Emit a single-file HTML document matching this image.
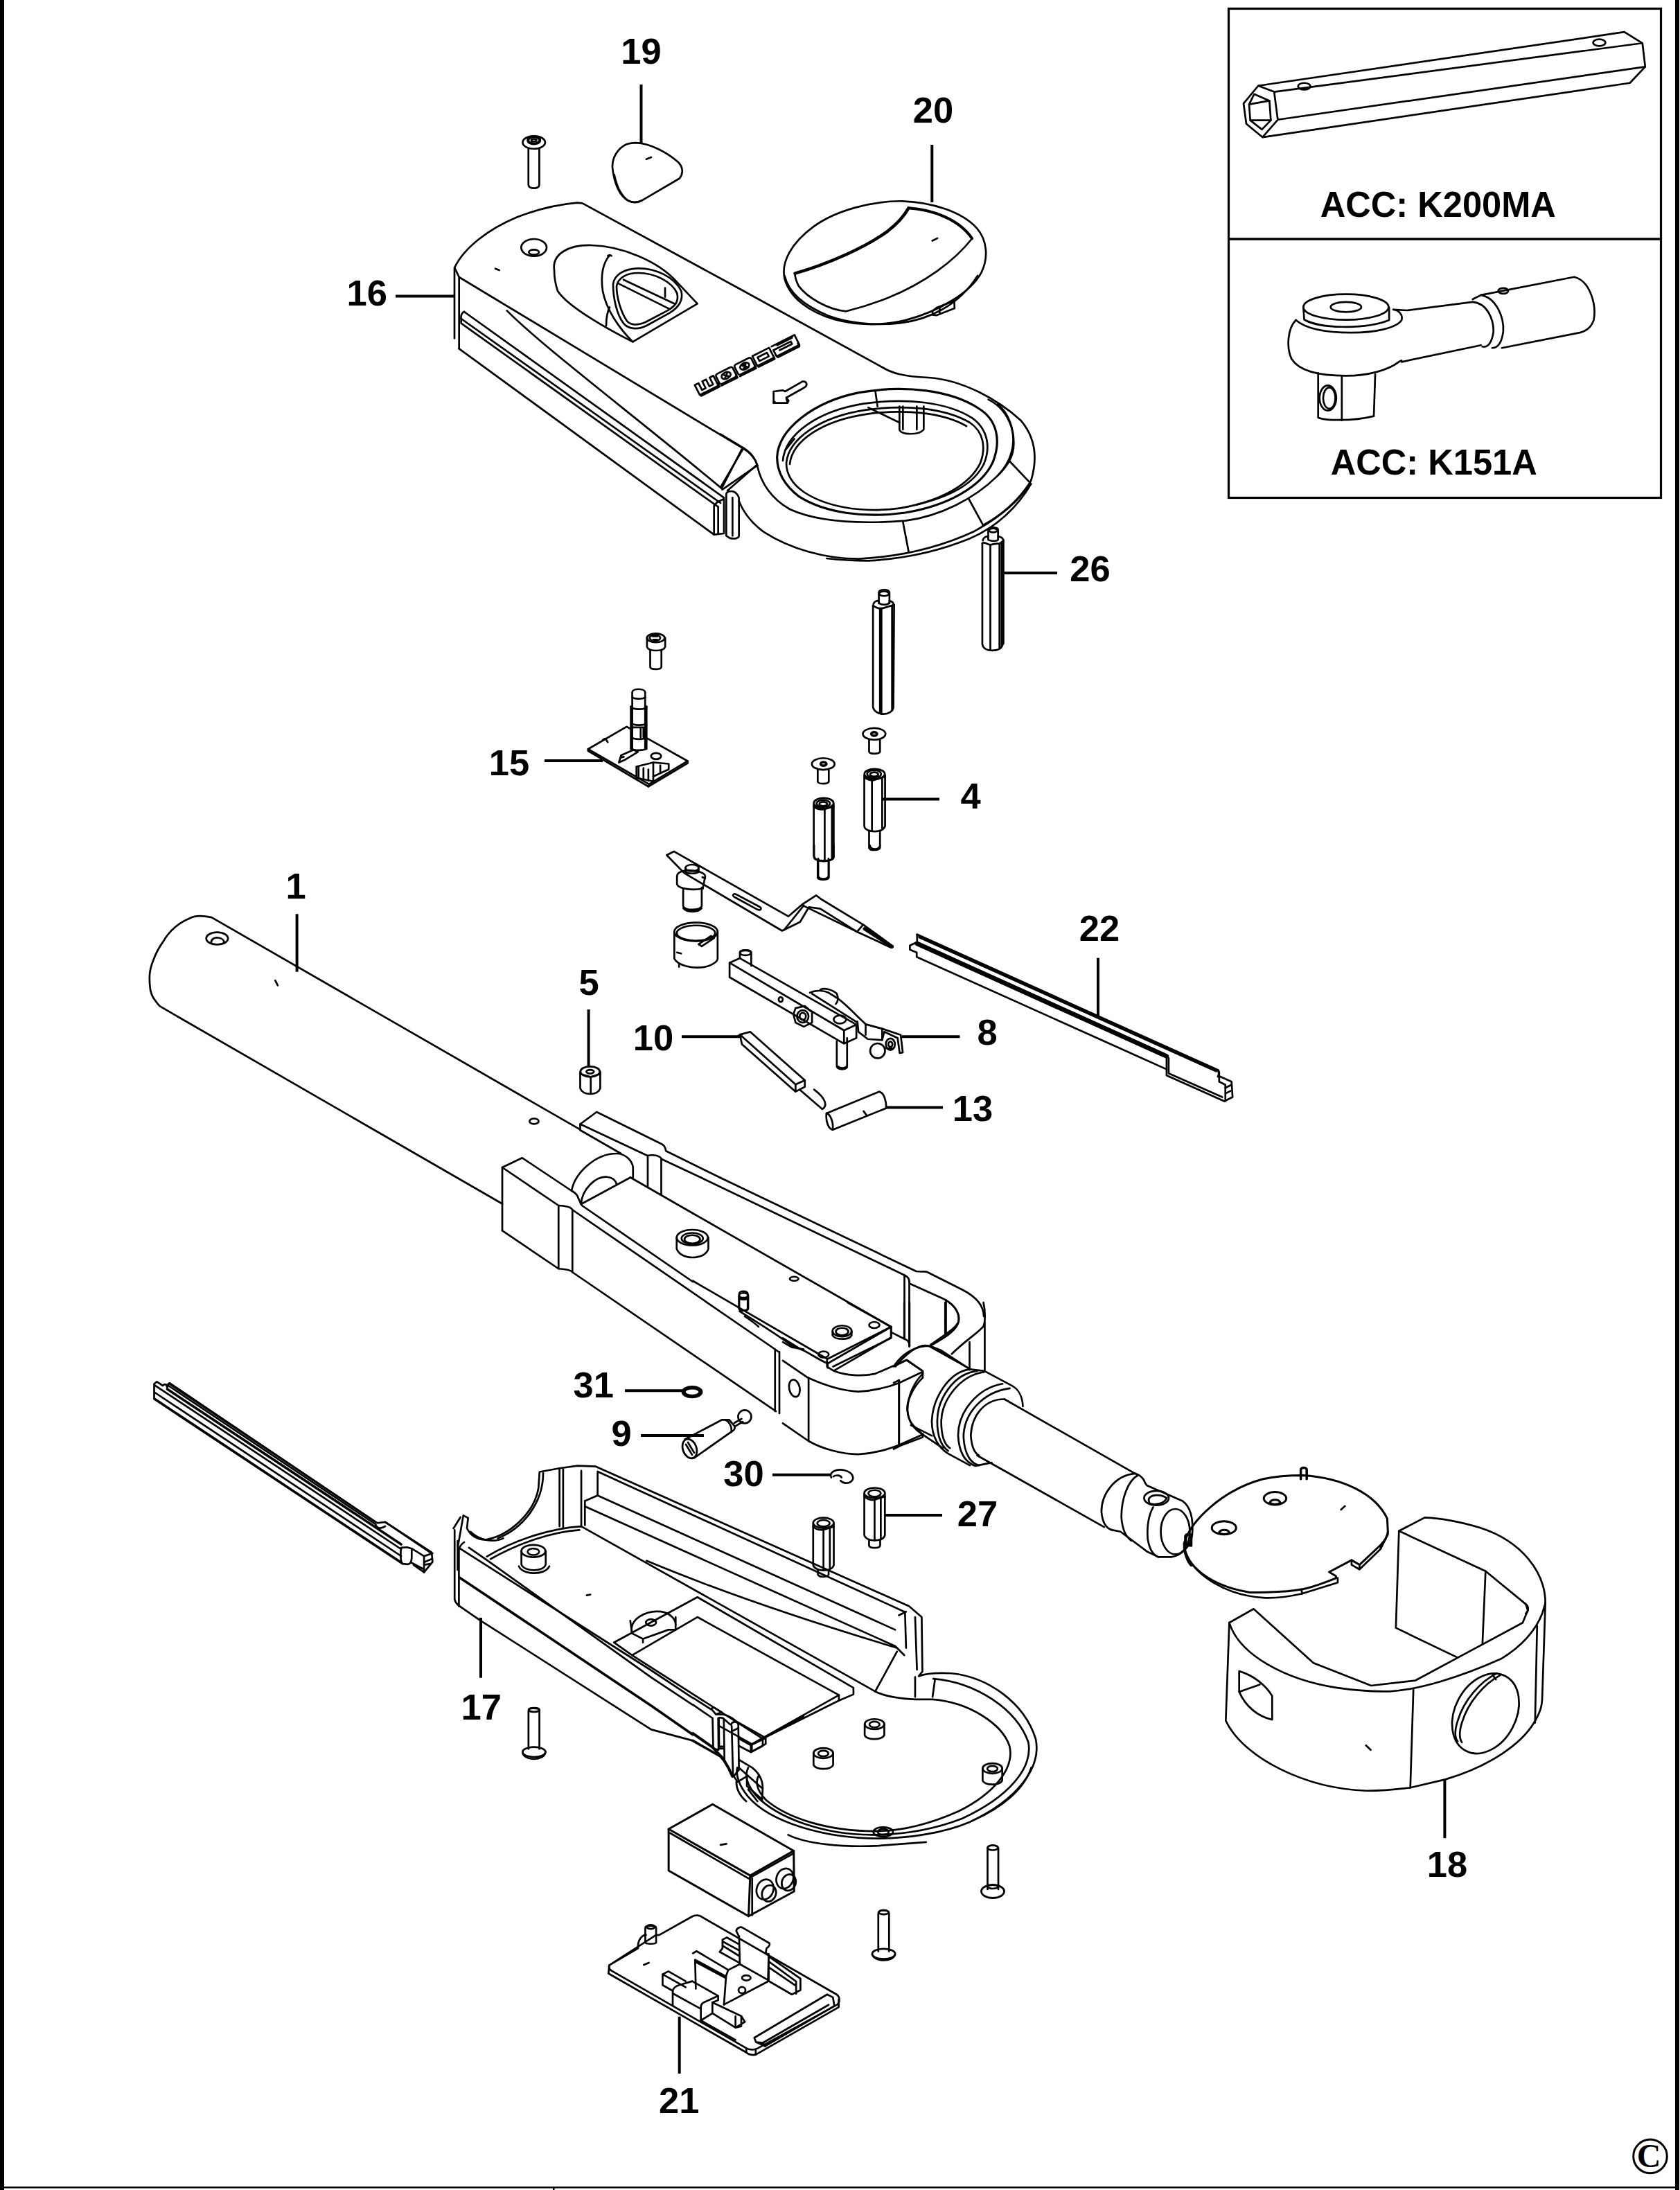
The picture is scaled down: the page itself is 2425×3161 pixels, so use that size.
<!DOCTYPE html>
<html><head><meta charset="utf-8">
<style>
html,body{margin:0;padding:0;background:#fff;}
body{width:2425px;height:3161px;overflow:hidden;position:relative;}
svg{position:absolute;left:0;top:0;}
.l path,.l ellipse,.l circle,.l polyline,.l line,.l polygon,.l rect{fill:none;stroke:#000;stroke-width:2.7;vector-effect:non-scaling-stroke;stroke-linejoin:round;stroke-linecap:round;}
.t{font-family:"Liberation Sans",sans-serif;font-weight:bold;font-size:52.5px;fill:#000;}
.ld{stroke:#000;stroke-width:4;fill:none;}
</style></head><body>
<svg width="2425" height="3161" viewBox="0 0 2425 3161">
<rect x="0" y="0" width="6" height="3161" fill="#000"/>
<rect x="2418" y="0" width="6" height="3161" fill="#000"/>
<rect x="0" y="3156" width="2418" height="2.5" fill="#000"/>
<rect x="798" y="3157" width="2.5" height="4" fill="#000"/>
<rect x="1773.5" y="12.5" width="624" height="706" fill="none" stroke="#000" stroke-width="3.2"/>
<line x1="1772" y1="345" x2="2398" y2="345" stroke="#000" stroke-width="3.5"/>
<!-- part 19 + screw  zoom 5.419 -->
<g class="l" transform="translate(700,40) scale(0.184536)">
<ellipse cx="383" cy="897" rx="88" ry="50"/>
<ellipse cx="383" cy="880" rx="46" ry="28" style="stroke-width:4"/>
<ellipse cx="383" cy="880" rx="20" ry="10"/>
<path d="M340,945 L340,1230 Q345,1255 383,1255 Q422,1255 425,1230 L425,945"/>
<path d="M1180,900 C1300,905 1430,980 1510,1050 C1550,1090 1555,1140 1520,1180 L1230,1350 C1190,1375 1140,1370 1100,1340 C1040,1290 1010,1200 998,1100 C990,1020 1040,940 1110,910 C1135,902 1160,900 1180,900 Z"/>
<path d="M1012,1150 C1030,1240 1060,1310 1120,1352 C1150,1368 1190,1368 1225,1352"/>
<path d="M1262,1028 L1300,1013"/>
</g>
<!-- part 20 zoom 4.6667 -->
<g class="l" transform="translate(1110,130) scale(0.2142857)">
<path d="M900,748 C1100,755 1300,820 1400,930 C1470,1010 1480,1130 1430,1230 C1360,1360 1150,1490 920,1550 C780,1585 600,1590 440,1545 C270,1495 140,1400 105,1270 C80,1160 150,1030 300,920 C450,810 700,745 900,748 Z"/>
<path d="M105,1250 C130,1360 230,1450 400,1520 C520,1565 700,1590 880,1570 C1080,1545 1280,1450 1405,1250"/>
<path d="M175,1235 C400,1170 650,1060 800,950 C870,895 910,850 940,795 C1100,805 1280,870 1368,1000 C1250,1150 1050,1300 800,1400 C700,1440 600,1470 520,1490 C400,1480 260,1400 200,1320 C185,1290 175,1260 175,1235 Z"/>
<path d="M175,1235 C400,1170 650,1060 800,950 C870,895 910,850 940,795" style="stroke-width:4.5"/>
<path d="M940,795 C1100,805 1280,870 1368,1000" style="stroke-width:4"/>
<path d="M1100,1490 L1105,1515 L1130,1517 L1250,1470 L1248,1420 L1130,1465 Z"/>
<path d="M1150,1460 L1150,1500"/>
<path d="M1100,1015 L1135,998"/>
</g>
<!-- cover 16 left zoom 3 at 620,270 -->
<g class="l" transform="translate(620,270) scale(0.333333)">
<path d="M108,655 L108,350 C150,260 260,180 380,130 C470,95 560,75 640,68 L662,70 L1360,450"/>
<path d="M128,700 L128,390"/>
<path d="M110,352 L128,390 L1355,1130"/>
<path d="M128,700 L1232,1505"/>
<path d="M150,540 C140,545 135,555 137,570 L137,590 L1250,1385"/>
<path d="M150,540 L1275,1345"/>
<path d="M137,570 L1260,1368"/>
<path d="M335,535 C500,700 900,1000 1265,1305"/>
<path d="M1355,1130 L1265,1305"/>
<path d="M1420,1205 L1268,1310"/>
<path d="M1355,1130 C1390,1150 1410,1175 1420,1205"/>
<path d="M1232,1505 L1232,1380 L1245,1365 L1275,1350 L1275,1500 Z"/>
<path d="M1250,1385 L1250,1500"/>
<path d="M1285,1330 C1285,1320 1300,1315 1315,1318 C1330,1322 1340,1340 1340,1350 L1340,1510 C1340,1522 1320,1525 1300,1520 L1285,1510 Z"/>
<path d="M1312,1345 L1312,1510"/>
<ellipse cx="452" cy="262" rx="55" ry="37"/>
<ellipse cx="452" cy="282" rx="22" ry="11"/>
<path d="M285,353 L302,360"/>
<path d="M540,360 C530,290 600,250 700,252 C830,255 990,320 1070,410 L1160,505 L880,670 C780,620 600,520 555,450 C545,420 540,390 540,360 Z"/>
<path d="M780,295 C750,330 740,380 750,450 C765,530 820,610 880,670"/>
<path d="M765,600 C765,560 770,540 780,520"/>
<path d="M795,420 C800,380 840,355 900,352 C980,350 1060,390 1090,450 C1100,490 1080,520 1040,545 L940,600 C900,620 860,615 840,590 C810,550 795,480 795,420 Z"/>
<path d="M810,430 C815,395 850,372 905,372 C975,372 1050,410 1072,460 C1080,495 1065,515 1030,535 L935,585 C900,600 870,598 855,580 C830,545 810,480 810,430 Z"/>
<path d="M840,401 L1063,506 M1020,437 L1020,476"/>
<path d="M819,418 L1037,527"/>
<path d="M772,298 C776,294 784,294 788,298"/>
</g>
<!-- FACOM lettering + arrow (zoom 3 at 620,270) -->
<g class="l" transform="translate(620,270) scale(0.333333)">
<g></g>
<path d="M1490,885 L1490,935 L1550,935 L1555,925 L1545,912 L1620,870 C1640,860 1635,840 1615,842 L1540,885 L1530,880 Z"/>
<path d="M1545,912 L1550,935 M1490,935 L1495,930"/>
</g>
<!-- FACOM lettering (source coords, local frame) -->
<g class="l" transform="translate(1078,527) rotate(-26.7)">
<path d="M-79,10 L-49,10 M-46,10 L-20,10 M-16,10 L10,10 M14,10 L40,10 M45,10 L80,10 M-49,10 L-49,4 M-20,10 L-20,5 M10,10 L10,5 M40,10 L40,5 M80,10 L80,5"/>
<path d="M-80,-8 L-80,8 L-50,8 L-50,-8 L-56,-8 L-56,3 L-62,3 L-62,-8 L-68,-8 L-68,3 L-74,3 L-74,-8 Z"/>
<rect x="-47" y="-8" width="27" height="16" rx="3"/>
<ellipse cx="-33.5" cy="0" rx="7" ry="4.5"/>
<path d="M-36,-2 L-31,2 M-36,2 L-31,-2"/>
<rect x="-17" y="-8" width="27" height="16" rx="3"/>
<ellipse cx="-3.5" cy="0" rx="7" ry="4.5"/>
<path d="M-6,-2 L-1,2 M-6,2 L-1,-2 M-3.5,-4 L-3.5,4"/>
<path d="M13,-8 L40,-8 L40,8 L13,8 Z M19,-3 L34,-3 L34,3 L19,3 Z"/>
<path d="M44,-8 L81,-8 L81,8 L44,8 L44,-2 L72,-2 L72,2 L52,2 M52,-6 L76,-6"/>
</g>
<!-- cover head zoom 3 at 1040,420 -->
<g class="l" transform="translate(1040,420) scale(0.333333)">
<path d="M100,0 L700,330 C740,355 790,370 900,375 C1050,385 1200,470 1300,560 C1360,630 1375,720 1345,820 C1310,900 1200,985 1100,1040 C950,1110 780,1150 600,1160 C450,1160 300,1115 190,1045 C140,1010 100,960 80,910"/>
<path d="M0,620 L100,680 C130,700 150,720 160,760 C175,830 220,900 300,945 C420,1000 600,1010 800,995 C950,975 1100,900 1200,800 C1260,740 1280,660 1260,590 C1240,530 1200,490 1160,470"/>
<path d="M1200,490 C1250,530 1270,600 1270,660 C1270,720 1240,760 1200,800"/>
<path d="M1250,735 L1340,830"/>
<path d="M1075,900 L1135,1010"/>
<path d="M790,1000 L815,1130"/>
<path d="M460,1158 C520,1165 580,1168 640,1168 C800,1160 950,1125 1080,1072 C1200,1020 1290,930 1345,835"/>
<path d="M1135,1015 C1200,980 1280,920 1340,830"/>
<path d="M100,680 L0,850"/>
<path d="M155,755 L30,865"/>
<path d="M245,720 C250,600 400,480 600,440 C800,405 1000,430 1120,510 C1200,560 1215,650 1180,740 C1130,850 980,930 800,960 C620,985 450,960 340,890 C275,840 245,780 245,720 Z" style="stroke-width:3.2"/>
<path d="M270,735 C280,620 420,520 620,488 C800,462 980,480 1090,550 C1160,600 1170,680 1140,750"/>
<path d="M285,745 C295,640 430,545 630,515 C800,492 970,505 1080,570 C1140,610 1150,680 1125,745 C1080,840 950,910 780,940 C600,965 450,930 360,870 C310,835 285,790 285,745 Z"/>
<path d="M300,750 C310,650 440,560 640,532 C800,512 960,525 1065,585"/>
<path d="M1140,750 C1100,830 1000,890 850,925"/>
<path d="M670,430 L680,500"/>
<path d="M280,690 L320,640"/>
<path d="M775,500 L775,600 C780,625 860,625 880,600 L880,500"/>
<path d="M790,500 L790,600 M850,500 L850,600"/>
<path d="M640,505 L775,570"/>
</g>
<!-- part 26 zoom 6.4615 at 1380,740 -->
<g class="l" transform="translate(1380,740) scale(0.154762)">
<path d="M300,250 L300,160 C300,130 390,130 392,160 L392,250"/>
<ellipse cx="346" cy="165" rx="38" ry="18"/>
<path d="M250,260 C255,230 280,220 300,222 M392,222 C420,225 440,240 442,262"/>
<path d="M300,250 C310,268 385,268 392,250"/>
<path d="M245,285 L245,1225 C250,1265 290,1285 340,1285 C390,1285 425,1265 432,1235 L442,1220 L442,262"/>
<path d="M245,285 C260,270 280,290 320,300 C350,292 380,285 405,290 L442,262"/>
<path d="M320,300 L320,1282 M405,290 L405,1265 M425,290 L425,1240"/>
</g>
<!-- part 15 + cap screw zoom 4.941 at 690,890 -->
<g class="l" transform="translate(690,890) scale(0.202381)">
<ellipse cx="1268" cy="152" rx="63" ry="32"/>
<ellipse cx="1262" cy="152" rx="38" ry="22"/>
<path d="M1245,140 L1280,140 M1250,165 L1278,165"/>
<path d="M1205,152 L1205,215 C1210,235 1240,242 1268,242 C1300,242 1330,235 1335,215 L1335,152"/>
<path d="M1228,238 L1228,360 C1232,378 1300,382 1308,360 L1308,238"/>
<path d="M1092,803 L1060,785 L785,945 L1220,1195 L1495,1030 L1202,865"/>
<path d="M785,945 L785,958 L1215,1212 L1495,1045 L1495,1030"/>
<path d="M1220,1195 L1215,1212"/>
<path d="M1100,945 L1100,540 C1100,510 1190,510 1192,540 L1192,945"/>
<path d="M1100,575 C1110,590 1180,590 1192,575"/>
<path d="M1090,640 L1090,945 M1202,640 L1202,945"/>
<path d="M1090,645 C1110,665 1185,665 1202,645 M1092,760 C1110,778 1185,778 1200,760"/>
<path d="M1092,860 C1110,878 1185,878 1200,860 M1092,940 C1110,958 1185,958 1200,940"/>
<path d="M1105,790 L1180,790 L1180,860 M1160,800 L1160,860"/>
<path d="M1005,1040 L1020,990 L1110,950 L1140,965 L1050,1020 Z M1020,1005 L1040,1000"/>
<path d="M1130,1070 L1250,1040 L1360,1050 L1360,1090 L1250,1140 L1250,1175 L1130,1150 Z"/>
<path d="M1145,1070 L1145,1150 M1180,1080 L1180,1160 M1215,1090 L1215,1170 M1250,1040 L1250,1140 M1300,1060 L1300,1110"/>
<ellipse cx="1270" cy="995" rx="36" ry="22"/>
<path d="M890,880 L905,870 M915,880 L925,895"/>
</g>
<!-- part 4 standoffs & screws zoom 4.761 at 1140,830 -->
<g class="l" transform="translate(1140,830) scale(0.210040)">
<path d="M612,195 L612,120 C612,95 683,95 685,120 L685,195"/>
<ellipse cx="648" cy="128" rx="33" ry="16"/>
<path d="M612,190 C625,208 672,208 685,190"/>
<path d="M575,200 C580,180 600,175 612,178 M685,178 C700,180 712,190 715,205"/>
<path d="M572,210 L572,905 C575,935 610,955 640,955 C680,955 710,935 712,910 L717,205"/>
<path d="M572,210 C600,230 625,232 640,228 L717,205"/>
<path d="M620,228 L620,945 M630,228 L630,948 M703,215 L703,930"/>
<ellipse cx="580" cy="1092" rx="78" ry="40"/>
<ellipse cx="580" cy="1092" rx="20" ry="12" style="stroke-width:3.5"/>
<path d="M545,1130 L545,1215 C550,1232 612,1232 620,1215 L620,1130"/>
<ellipse cx="230" cy="1298" rx="78" ry="40"/>
<ellipse cx="232" cy="1298" rx="20" ry="12" style="stroke-width:3.5"/>
<path d="M192,1337 L192,1420 C197,1438 262,1438 268,1420 L268,1337"/>
<ellipse cx="583" cy="1367" rx="70" ry="35"/>
<ellipse cx="580" cy="1367" rx="48" ry="26"/>
<ellipse cx="580" cy="1370" rx="28" ry="15"/>
<path d="M512,1375 L512,1725 C515,1750 550,1762 583,1762 C620,1762 650,1748 655,1725 L655,1375"/>
<path d="M512,1390 C540,1410 565,1412 575,1410 L655,1385"/>
<path d="M565,1410 L565,1755 M635,1395 L635,1740"/>
<path d="M545,1762 L545,1875 C550,1895 612,1895 620,1875 L620,1762"/>
<ellipse cx="233" cy="1567" rx="68" ry="35"/>
<ellipse cx="230" cy="1570" rx="46" ry="24"/>
<ellipse cx="230" cy="1573" rx="27" ry="14"/>
<path d="M165,1575 L165,1930 C170,1955 200,1967 233,1967 C270,1967 298,1955 302,1930 L302,1575"/>
<path d="M165,1592 C190,1610 220,1613 235,1610 L302,1590"/>
<path d="M240,1610 L240,1962 M290,1600 L290,1945"/>
<path d="M192,1967 L192,2080 C197,2098 262,2098 268,2080 L268,1967"/>
</g>
<!-- levers zoom 3.36 at 940,1220 -->
<g class="l" transform="translate(940,1220) scale(0.297619)">
<path d="M75,48 L110,30 L665,345 L735,285 L800,243 L825,262 L1028,385 L1170,488 L1165,497 L995,418 L820,308 L765,300 L722,372 L635,415 L160,135 Z"/>
<path d="M645,410 L740,292 M735,292 L1000,420"/>
<path d="M1028,385 L1000,418"/>
<path d="M1035,405 L1168,492" style="stroke-width:5"/>
<path d="M412,238 L525,298 C540,306 530,318 515,312 L405,252 C390,244 398,232 412,238 Z"/>
<path d="M248,155 L262,160"/>
<ellipse cx="198" cy="110" rx="32" ry="16"/>
<path d="M166,110 L166,128 C175,140 220,140 230,128 L230,110"/>
<path d="M125,150 C125,130 160,120 190,122 C230,124 260,135 262,150 L250,210"/>
<path d="M125,150 L125,190 C135,212 200,220 250,210"/>
<path d="M155,212 L155,295 C160,318 235,318 245,295 L245,205"/>
<path d="M158,305 C175,325 225,325 242,305" style="stroke-width:4"/>
<ellipse cx="217" cy="420" rx="105" ry="45"/>
<ellipse cx="217" cy="426" rx="93" ry="37"/>
<path d="M112,420 L112,550 C130,585 200,598 250,592 C300,585 322,560 322,550 L322,420"/>
<path d="M230,480 L290,440 L305,450 L245,490 Z"/>
<path d="M125,520 L145,525 M135,580 L135,590"/>
<path d="M380,570 L430,548 L995,870 L935,898 Z"/>
<path d="M380,570 L380,640 L935,962 L935,898 M935,962 L995,935 L995,870"/>
<path d="M430,548 L430,520 C430,505 485,505 485,520 L485,585"/>
<ellipse cx="457" cy="522" rx="27" ry="12"/>
<ellipse cx="628" cy="748" rx="10" ry="12"/>
<path d="M700,790 L745,780 L780,810 L780,860 L740,880 L700,860 L690,820 Z"/>
<ellipse cx="735" cy="830" rx="28" ry="30"/>
<ellipse cx="735" cy="830" rx="15" ry="17"/>
<path d="M770,715 C800,700 840,705 860,715 L900,740 C930,760 960,790 1000,830 L1040,868 L1120,890 L1210,920 L1220,1005 L1205,1008 L1195,935 L1130,905 L1120,945 L1050,940 L1005,905 L1000,855"/>
<path d="M780,720 L1000,860 M1040,868 L1040,920 M1120,890 L1120,945"/>
<path d="M820,700 C840,690 880,700 900,720 C910,740 905,760 895,770"/>
<ellipse cx="915" cy="845" rx="30" ry="20"/>
<ellipse cx="1160" cy="965" rx="22" ry="28"/>
<ellipse cx="1160" cy="965" rx="10" ry="13"/>
<path d="M1140,985 L1170,985"/>
<circle cx="1098" cy="997" r="36"/>
<path d="M900,950 L900,1072 C905,1090 945,1090 950,1072 L950,935"/>
<path d="M905,1075 C915,1085 940,1085 948,1075" style="stroke-width:4"/>
<path d="M430,918 L480,905 L745,1140 L700,1160 Z"/>
<path d="M430,918 L440,965 L700,1195 L745,1172 L745,1140 M700,1160 L700,1195"/>
<path d="M420,925 L440,918"/>
<path d="M720,1185 L830,1280 C855,1265 850,1230 790,1185"/>
<path d="M850,1300 L1105,1195 C1130,1200 1140,1240 1140,1275 L880,1380 C860,1375 845,1340 850,1300 Z"/>
<path d="M850,1300 C870,1305 885,1345 880,1380"/>
<path d="M1030,1290 L1045,1310"/>
<path d="M790,0 L790,60 C795,80 880,80 885,60 L885,0"/>
<path d="M810,65 L810,150 C815,168 855,168 860,150 L860,65"/>
<path d="M1060,0 C1065,25 1105,25 1110,0"/>
</g>
<!-- rail 22 zoom 3.36 at 1300,1280 -->
<g class="l" transform="translate(1300,1280) scale(0.297619)">
<path d="M80,232 L1540,890 C1545,900 1545,912 1540,920" style="stroke-width:3.4"/>
<path d="M80,232 L80,268 L45,285 L45,305 L78,318 L78,340 L1290,885"/>
<path d="M80,268 L1290,815"/>
<path d="M80,276 L1290,822" style="stroke-width:6.5"/>
<path d="M90,245 L1530,895"/>
<path d="M1290,825 L1290,915 L1570,1040 L1610,1020 L1605,945 L1545,918 L1545,945 L1575,960 L1575,1040"/>
<path d="M1300,830 L1300,905 L1560,1020"/>
<path d="M1575,975 L1605,960 M1580,1000 L1600,990"/>
</g>
<!-- handle 1 (source coords) -->
<g class="l">
<path d="M837.5,1630.4 L305.4,1324.1 C295,1322 282,1321 275,1325 C265,1329 259,1333 253.6,1337.5 C246,1344 240,1351 235.7,1358.9 C229,1368 225,1376 221.4,1385.7 C218,1394 216.5,1400 216,1407 C215.5,1414 216,1421 217,1428.6 C218.5,1435 220,1439 223.2,1442.9 C226,1447 228,1450 231.25,1452.7 L725,1737.5"/>
<ellipse cx="313.4" cy="1354.5" rx="15.7" ry="8.9"/>
<path d="M304.8,1360.5 C305,1355 310,1353 314.5,1353.5 C320,1354 323,1357 323.5,1359.5"/>
<path d="M397.3,1415.2 L400.9,1422.3"/>
<ellipse cx="770.9" cy="1618.4" rx="6.6" ry="3.9"/>
<ellipse cx="851.8" cy="1546.8" rx="14" ry="7.5"/>
<ellipse cx="851.8" cy="1546.8" rx="5.4" ry="2.7"/>
<path d="M837.5,1547 L837.5,1571 C840,1577 846,1579 852,1579 C858,1579 864,1577 866.4,1571 L866.4,1547"/>
<path d="M837.5,1550 L852.7,1554.5 L866.4,1550 M852.7,1554.5 L852.7,1578.6"/>
</g>
<!-- body J-view zoom 4 at 690,1580 -->
<g class="l" transform="translate(690,1580) scale(0.25)">
<path d="M590,205 L590,170 L685,100 L1050,280 C1075,290 1080,300 1085,325 L1400,480"/>
<path d="M590,170 L978,352 C1010,345 1050,350 1060,372 L1290,480"/>
<path d="M590,205 L825,340"/>
<path d="M980,355 L980,530 M1058,372 L1058,578"/>
<path d="M880,478 L1240,685"/>
<path d="M140,785 L140,420 L255,365 L540,555 C560,565 575,580 580,600 L595,632"/>
<path d="M140,420 L465,640 C500,640 540,650 545,665 L1712,1468 L1737,1486"/>
<path d="M465,640 L465,1005 M545,665 L545,1025"/>
<path d="M140,785 L465,1005 C500,1005 540,1015 545,1025 L1720,1828"/>
<path d="M540,555 C560,450 680,340 800,340 C850,340 890,380 895,420 L895,478"/>
<path d="M595,632 C600,545 680,470 745,475 C775,478 795,495 800,518"/>
<path d="M595,632 L880,478"/>
<path d="M600,640 L1240,1080"/>
<ellipse cx="1237" cy="825" rx="90" ry="45"/>
<ellipse cx="1237" cy="830" rx="62" ry="32"/>
<ellipse cx="1237" cy="835" rx="45" ry="24"/>
<path d="M1147,825 L1147,890 C1160,925 1200,940 1237,940 C1280,940 1320,925 1330,890 L1330,825"/>
<path d="M1508,1150 C1508,1130 1555,1130 1557,1150 L1557,1235 C1555,1250 1510,1250 1508,1235 Z"/>
<path d="M1508,1165 C1515,1175 1550,1175 1557,1165 M1508,1180 L1557,1180"/>
</g>
<!-- body K2-view zoom 4 at 1000,1700 -->
<g class="l" transform="translate(1000,1700) scale(0.25)">
<path d="M160,0 L1290,540 C1320,545 1345,538 1355,545 L1560,648 C1640,690 1680,740 1680,800"/>
<path d="M50,0 L1222,562 C1240,570 1250,585 1250,600"/>
<path d="M1222,562 L1222,925 M1250,600 L1250,975"/>
<path d="M1255,612 L1450,700 C1525,740 1550,800 1530,845 C1510,890 1450,925 1375,968"/>
<path d="M1462,705 L1462,895"/>
<path d="M0,205 L1145,860 L1145,925 L810,1090"/>
<path d="M780,1045 L1145,860"/>
<path d="M0,595 L775,1045 L775,1090"/>
<path d="M270,770 C350,820 480,900 560,960 C580,975 600,985 640,990"/>
<path d="M300,800 C330,820 360,840 380,860"/>
<ellipse cx="585" cy="583" rx="25" ry="12"/>
<ellipse cx="1048" cy="850" rx="30" ry="18"/>
<ellipse cx="755" cy="1020" rx="30" ry="18"/>
<ellipse cx="862" cy="885" rx="55" ry="32"/>
<ellipse cx="862" cy="888" rx="36" ry="21"/>
<path d="M807,885 L807,910 C820,935 900,940 917,910 L917,885"/>
<path d="M267,680 C267,660 318,660 320,680 L320,755 C318,770 270,770 267,755 Z"/>
<path d="M267,695 C275,705 312,705 320,695"/>
<path d="M475,990 L475,1348 M500,1005 L500,1360"/>
</g>
<!-- U front zoom 5.25 at 1130,1880 -->
<g class="l" transform="translate(1130,1880) scale(0.190476)">
<path d="M0,440 L190,570 C300,620 450,670 570,675 C700,670 800,640 880,610 L1060,525"/>
<path d="M0,915 L195,1050 C300,1110 450,1150 570,1150 C700,1145 800,1110 880,1080 L1060,1000"/>
<path d="M195,570 L195,1050 M880,610 L880,1080"/>
<ellipse cx="88" cy="650" rx="40" ry="66" transform="rotate(-12 88 650)"/>
<path d="M340,490 L390,520 C480,555 600,560 700,540 L850,475 L940,435 L1060,520 L1060,540"/>
<path d="M340,462 L820,185 L820,265 L390,515 M340,462 L340,495"/>
<path d="M0,270 L120,345 C200,380 280,440 340,462"/>
<path d="M0,300 L70,340 C100,345 120,345 150,360"/>
<path d="M490,0 L820,185"/>
<path d="M820,225 L940,285 C955,295 960,310 960,330"/>
<path d="M920,0 L920,275 M960,0 L960,330"/>
<path d="M850,470 C900,400 980,340 1080,330 L1110,330 L1420,505"/>
<path d="M1120,335 L1280,425 L1330,450"/>
<path d="M1060,540 C1000,600 945,700 945,820 C950,900 980,930 1060,1000 L1060,1010"/>
<path d="M970,930 L1130,1010"/>
<path d="M1230,0 L1230,235 M1260,0 C1320,40 1340,100 1330,150 C1300,200 1250,230 1120,320"/>
<path d="M1520,0 C1535,60 1535,150 1520,180 C1480,230 1380,290 1280,390"/>
<path d="M1415,300 L1415,510 M1530,150 L1530,515"/>
</g>
<!-- tube zoom 3.818 at 1290,1920 -->
<g class="l" transform="translate(1290,1920) scale(0.261905)">
<path d="M0,200 L70,165 L160,225 L160,262"/>
<path d="M0,290 L30,275 L30,640 L0,655"/>
<path d="M160,570 L160,590 L0,650"/>
<path d="M160,85 C100,100 40,160 10,200"/>
<path d="M160,85 C200,80 230,100 260,110 L420,215"/>
<path d="M160,262 C100,320 70,400 75,440 C80,500 110,545 160,575 L270,650"/>
<path d="M200,90 L330,160"/>
<path d="M420,215 C300,230 215,380 210,500 C210,590 250,650 300,680 L420,745"/>
<path d="M460,225 C330,240 240,380 240,500 C240,585 265,640 300,665"/>
<path d="M500,230 C360,250 265,390 262,500 C262,580 280,630 310,650"/>
<path d="M420,215 L500,225 L650,305 C690,325 710,370 712,420"/>
<path d="M600,295 C460,320 355,450 355,580 C360,680 400,730 450,748 L540,730"/>
<path d="M640,320 C490,340 385,460 385,590 C390,690 430,735 470,745"/>
<path d="M610,380 L1330,790"/>
<path d="M460,690 L1160,1085"/>
<path d="M610,380 C500,380 430,470 425,580 C430,650 450,680 470,690"/>
<path d="M1330,790 C1220,800 1145,900 1145,1000 C1150,1060 1170,1090 1200,1100"/>
<path d="M1330,790 L1345,795 C1365,805 1378,818 1385,840 L1395,855 L1590,940 C1640,975 1652,1050 1645,1130 C1635,1190 1590,1240 1530,1250 L1460,1250 L1400,1222 L1250,1110 L1200,1100"/>
<path d="M1345,800 C1290,830 1255,930 1255,1030 C1260,1100 1280,1140 1310,1160"/>
<path d="M1430,975 C1405,1020 1395,1080 1400,1150 C1410,1210 1430,1240 1460,1250"/>
<ellipse cx="1552" cy="1110" rx="80" ry="125"/>
<ellipse cx="1448" cy="925" rx="68" ry="40"/>
<path d="M1405,935 C1410,905 1470,900 1505,925 C1490,958 1440,965 1410,955 Z"/>
<rect x="1612" y="1125" width="26" height="58"/>
<path d="M1600,1190 C1600,1230 1620,1280 1640,1298"/>
</g>
<!-- disc zoom 5.25 at 1690,2070 -->
<g class="l" transform="translate(1690,2070) scale(0.190476)">
<path d="M100,830 C150,650 400,420 700,340 C800,318 900,312 1000,312 C1300,330 1550,450 1640,640 L1645,740 C1640,780 1620,810 1590,840 L1430,990 L1370,955 L1200,1045 L1250,1075 L1255,1090 C1150,1130 1080,1160 1000,1175 C900,1195 780,1200 600,1200 C300,1150 110,1000 100,830 Z" style="stroke-width:3"/>
<path d="M105,870 C150,1050 400,1220 700,1240 C800,1245 900,1230 990,1210 L1265,1125 L1265,1090"/>
<path d="M1370,955 L1370,990 L1430,1025 L1430,990 M1430,1025 L1590,870 L1645,760 L1645,740"/>
<path d="M1590,840 L1590,870"/>
<path d="M990,1175 L995,1210"/>
<path d="M985,340 L985,270 C985,250 1030,250 1030,270 L1030,340" style="stroke-width:3.5"/>
<path d="M110,840 L110,775 C110,760 155,760 155,775 L155,845 Z" style="stroke-width:3.5"/>
<ellipse cx="790" cy="487" rx="85" ry="48" style="stroke-width:3"/>
<path d="M750,520 C760,490 820,490 830,520 C810,535 770,535 750,520 Z" style="stroke-width:3"/>
<ellipse cx="403" cy="710" rx="92" ry="50" style="stroke-width:3"/>
<path d="M365,748 C375,718 435,718 445,748 C425,762 385,762 365,748 Z" style="stroke-width:3"/>
<path d="M1290,572 L1320,545"/>
</g>
<!-- ring 18 zoom 3.36 at 1750,2180 -->
<g class="l" transform="translate(1750,2180) scale(0.297619)">
<path d="M82,545 L200,478 L490,740 L770,850 L985,825 L1195,712"/>
<path d="M82,545 C130,700 350,820 600,860 C700,875 780,880 860,878 C1000,870 1200,810 1400,720 C1500,660 1570,580 1600,500 L1615,450 C1615,300 1500,150 1300,85 C1200,55 1100,38 1030,35 L905,100 L890,570 L1185,712"/>
<path d="M905,100 L1325,295 L1520,455 L1530,485 L1505,545 L1195,712"/>
<path d="M1325,295 L1310,645"/>
<path d="M1520,455 C1535,465 1535,490 1520,500"/>
<path d="M82,545 L65,1020 C150,1200 450,1350 750,1360 C850,1360 900,1352 960,1345 L1130,1305 C1350,1240 1500,1130 1560,1030 C1590,980 1600,950 1600,900 L1615,450"/>
<path d="M975,870 L960,1345"/>
<path d="M1575,560 L1565,1030"/>
<path d="M130,780 L130,880 C160,950 220,1000 290,1015 L290,900 C260,850 200,800 130,780 Z"/>
<path d="M130,880 L230,845"/>
<ellipse cx="1325" cy="985" rx="148" ry="205" transform="rotate(28 1325 985)"/>
<path d="M1380,790 C1300,830 1220,920 1190,1020 C1170,1080 1180,1110 1190,1120"/>
<path d="M1395,800 C1320,840 1240,930 1210,1030 C1195,1080 1200,1110 1210,1125"/>
<path d="M1360,800 L1375,820"/>
<path d="M745,1140 L768,1162"/>
</g>
<!-- left rail zoom 3.652 at 200,1960 -->
<g class="l" transform="translate(200,1960) scale(0.273810)">
<path d="M160,135 L1250,865 L1260,870 L1300,865 L1545,1025 L1550,1075 L1505,1130 L1450,1092"/>
<path d="M1300,865 L1545,1030"/>
<path d="M1385,1000 C1380,1020 1380,1070 1390,1085 L1420,1088 C1440,1085 1440,1060 1440,1050 L1440,1005 L1415,998 Z"/>
<path d="M1440,1005 L1505,1045 L1550,1030 M1505,1045 L1505,1130 M1440,1080 L1505,1115"/>
<path d="M1510,1075 L1545,1060 M1510,1090 L1540,1085"/>
</g>
<!-- left rail long lines (source) -->
<g class="l">
<path d="M245,1996.4 L542.3,2196.9"/>
<path d="M243,2000 L542,2200 C543,2205 548,2208 556,2203"/>
<path d="M241.4,2005 L579,2229" style="stroke-width:3.6"/>
<path d="M223.2,1999.3 L579,2236"/>
<path d="M223.6,2010 L579,2246"/>
<path d="M223.2,2019.3 L580,2256" style="stroke-width:3.6"/>
<path d="M222.5,2018.6 L222.5,1997.5 L226.4,1994.3 L235,2000 L237.1,1998.2 L240,1998.6 L241.4,2003 L242.9,1997.5 L245,1996.4"/>
</g>
<!-- small parts zoom 3.36 at 880,1960 -->
<g class="l" transform="translate(880,1960) scale(0.297619)">
<ellipse cx="400" cy="165" rx="45" ry="24" style="stroke-width:4"/>
<ellipse cx="400" cy="165" rx="36" ry="17"/>
<path d="M365,395 L545,300 L580,300 L605,330 C610,340 605,350 595,355 L410,485"/>
<ellipse cx="388" cy="440" rx="33" ry="48" transform="rotate(-20 388 440)"/>
<path d="M370,420 L400,470 M380,410 L410,460"/>
<path d="M560,300 C575,305 595,330 590,360"/>
<path d="M605,315 L640,295 M612,330 L645,310"/>
<circle cx="655" cy="285" r="32"/>
<path d="M1075,580 C1060,555 1100,535 1140,545 C1180,555 1190,585 1170,600 C1155,612 1130,608 1120,595 M1085,575 C1100,565 1120,570 1125,580"/>
<ellipse cx="1285" cy="655" rx="50" ry="25"/>
<ellipse cx="1285" cy="657" rx="30" ry="16"/>
<path d="M1235,660 L1235,860 C1240,878 1265,885 1285,885 C1310,885 1330,878 1335,860 L1335,660"/>
<path d="M1235,672 C1255,690 1275,690 1285,688 L1335,672 M1285,688 L1285,885 M1315,680 L1315,875"/>
<path d="M1258,885 L1258,910 C1262,925 1308,925 1312,910 L1312,885"/>
<ellipse cx="1037" cy="800" rx="50" ry="25"/>
<ellipse cx="1037" cy="802" rx="30" ry="16"/>
<path d="M987,805 L987,1005 C992,1022 1015,1030 1037,1030 C1060,1030 1082,1022 1087,1005 L1087,805"/>
<path d="M987,818 C1005,835 1025,835 1037,833 L1087,818 M1037,833 L1037,1030 M1068,825 L1068,1020"/>
<path d="M1010,1030 L1010,1050 C1015,1065 1058,1065 1062,1050 L1062,1030"/>
</g>
<!-- housing 17 zoom 1.909 at 640,2080 -->
<g class="l" transform="translate(640,2080) scale(0.523810)">
<path d="M40,290 L55,205 L68,212 L65,240 C75,262 95,272 115,272 C180,262 250,200 262,130 L265,85 L320,75 L370,68 L420,70 L1283,455 L1318,485 L1320,632"/>
<path d="M75,250 C100,275 140,280 165,268"/>
<path d="M275,88 C275,170 220,240 150,268"/>
<path d="M320,78 L320,235 M330,78 L330,238 M380,82 L380,235 M425,88 L425,150"/>
<path d="M425,84 L1272,471 L1275,570"/>
<path d="M390,165 L425,150 L1245,520"/>
<path d="M390,180 L1245,565 L1270,590"/>
<path d="M390,165 L390,232"/>
<path d="M1255,480 L1275,470 M1300,485 L1305,630"/>
<path d="M120,318 C200,270 300,240 380,235 L1190,690"/>
<path d="M130,325 C210,280 300,250 375,245"/>
<path d="M560,330 C800,430 1050,510 1250,570"/>
<path d="M470,555 L700,430 L1130,680 L1130,698 L1090,715 L1090,700 L700,485 L520,590 Z"/>
<path d="M520,590 L880,820 L880,840 L850,856 L850,835 L760,785"/>
<path d="M1090,715 L880,820 M1090,700 L850,835"/>
<path d="M520,530 C510,490 560,465 600,470 C630,475 640,495 640,505 L640,485"/>
<path d="M515,495 L520,530 L550,545 L550,555 M640,505 L640,520 L620,520 L550,545"/>
<ellipse cx="572" cy="500" rx="14" ry="9"/>
<path d="M395,425 L405,423"/>
<path d="M1320,635 L1310,648 C1330,640 1360,638 1400,640 C1500,650 1600,720 1632,820 C1650,900 1580,990 1450,1050 C1380,1080 1280,1095 1200,1095 C1050,1095 900,1050 840,980 C815,950 805,920 810,900"/>
<path d="M1350,655 C1470,665 1580,740 1612,830 C1625,900 1560,980 1430,1040 C1340,1075 1250,1085 1180,1085 C1050,1085 920,1040 860,975 C835,945 830,920 840,900"/>
<path d="M1300,650 L1300,705 M1355,655 L1348,705"/>
<path d="M1190,690 C1220,705 1260,710 1300,712 L1348,712 C1450,720 1540,780 1560,840 C1575,900 1520,970 1420,1020 C1330,1060 1250,1075 1190,1075 C1060,1075 950,1040 890,990 C860,960 860,935 870,920"/>
<path d="M1250,580 L1190,690"/>
<path d="M950,1085 C1000,1110 1100,1120 1200,1115 L1330,1105"/>
<path d="M1460,1045 C1540,1010 1600,960 1620,900"/>
<ellipse cx="1188" cy="780" rx="27" ry="14"/>
<ellipse cx="1188" cy="781" rx="14" ry="8"/>
<path d="M1161,780 L1161,810 C1165,825 1210,825 1215,810 L1215,780"/>
<ellipse cx="1047" cy="860" rx="27" ry="14"/>
<ellipse cx="1047" cy="861" rx="14" ry="8"/>
<path d="M1020,860 L1020,892 C1025,907 1070,907 1074,892 L1074,860"/>
<ellipse cx="1513" cy="902" rx="27" ry="14"/>
<ellipse cx="1513" cy="903" rx="14" ry="8"/>
<path d="M1486,902 L1486,935 C1490,950 1535,950 1540,935 L1540,902"/>
<ellipse cx="1212" cy="1077" rx="27" ry="13"/>
<ellipse cx="1212" cy="1077" rx="15" ry="8"/>
<ellipse cx="248" cy="303" rx="33" ry="17"/>
<ellipse cx="248" cy="305" rx="16" ry="9"/>
<path d="M215,303 L215,340 C222,360 275,362 282,340 L282,303"/>
<path d="M208,345 C215,368 280,372 292,345"/>
</g>
<!-- housing front wall (source coords) -->
<g class="l">
<path d="M656.2,2208.3 L656.2,2308.4 C657,2312 659,2315 662.8,2317.9"/>
<path d="M660.6,2224 L660.6,2266 M662.4,2233.8 L662.4,2318.6"/>
<path d="M654.5,2206 L656.5,2203 L659,2199 L664.6,2190"/>
<path d="M663.2,2234.6 L940,2411 L1000,2450.9"/>
<path d="M663.2,2234.6 C664,2232 667,2228 670,2226"/>
<path d="M676.9,2233.8 L701.1,2250.6 L940,2421.1 L1000,2460.8"/>
<path d="M663.2,2276.9 L940,2461.9 L1000,2503.8" style="stroke-width:3.6"/>
<path d="M662.8,2317.9 L692.4,2338.3 L940,2496.4 L1000,2512.4"/>
</g>
<!-- housing neck posts zoom 10.5 at 1000,2440 -->
<g class="l" transform="translate(1000,2440) scale(0.0952381)">
<path d="M0,110 L275,285 L290,268 L320,258 L440,330 L350,360 L290,290"/>
<path d="M350,360 L470,365 C560,390 620,430 660,470 L1090,710 L1680,390"/>
<path d="M0,215 L300,420"/>
<path d="M300,420 L310,880 L390,900 L385,420 C390,410 460,410 470,430 L480,1060"/>
<path d="M395,430 L400,880 M400,880 L470,880 M410,850 L465,850"/>
<path d="M470,430 L560,510"/>
<path d="M580,520 C590,490 620,475 650,478 C680,485 690,500 690,520 L700,1200 M590,540 L610,1300 M610,610 L690,570"/>
<path d="M700,730 L880,830 L880,935 L1105,810 L1105,720 L880,830 M700,840 L880,935"/>
<path d="M0,650 L300,860 L420,990 C450,1020 470,1050 480,1070 C520,1130 560,1200 600,1300" style="stroke-width:4"/>
<path d="M0,760 L420,1000 L480,1070" style="stroke-width:3.5"/>
<path d="M700,1050 L900,1170 C1000,1250 1060,1350 1060,1480 L1050,1680"/>
<path d="M700,1170 L1050,1480"/>
<path d="M620,1300 L680,1385 L820,1300 L820,1450 L1050,1650 M700,1200 L620,1300"/>
<path d="M660,1385 C660,1500 720,1600 810,1680"/>
<path d="M840,1500 L980,1680"/>
</g>
<!-- battery + screw zoom 3.5 at 720,2380 -->
<g class="l" transform="translate(720,2380) scale(0.285714)">
<path d="M150,505 L150,312 C150,296 205,296 205,312 L205,505"/>
<ellipse cx="178" cy="308" rx="27" ry="10"/>
<ellipse cx="178" cy="521" rx="58" ry="25"/>
<path d="M120,521 C122,545 150,556 178,556 C205,556 233,545 236,521"/>
<path d="M858,910 L1080,785 L1490,1020 L1270,1145 Z" style="stroke-width:3"/>
<path d="M858,910 L858,1120 L1262,1350 L1270,1145" style="stroke-width:3"/>
<path d="M1490,1020 L1492,1225 L1262,1350" style="stroke-width:3"/>
<path d="M865,930 L1262,1160 L1485,1035"/>
<path d="M1280,1160 L1280,1345"/>
<ellipse cx="1345" cy="1215" rx="42" ry="52" transform="rotate(20 1345 1215)"/>
<ellipse cx="1365" cy="1235" rx="35" ry="42" transform="rotate(20 1365 1235)"/>
<ellipse cx="1445" cy="1160" rx="42" ry="52" transform="rotate(20 1445 1160)"/>
<ellipse cx="1465" cy="1180" rx="35" ry="42" transform="rotate(20 1465 1180)"/>
<path d="M1120,990 L1150,985"/>
</g>
<!-- board 21 zoom 4.8 at 870,2760 -->
<g class="l" transform="translate(870,2760) scale(0.208333)">
<path d="M45,368 L245,250 C240,190 275,158 300,158 M370,158 C380,158 388,160 392,158 L620,30 C640,18 675,20 690,35 L1620,570 C1645,585 1645,625 1625,640 L1070,945 C1050,955 1020,955 1000,945 L60,405 C45,398 42,380 45,368 Z"/>
<path d="M45,368 L40,425 L995,972 C1010,987 1040,992 1060,987 L1635,658 L1635,605"/>
<path d="M995,945 L995,972 M1060,955 L1060,987"/>
<path d="M295,212 L295,108 C295,90 370,90 370,108 L370,212 C360,222 305,222 295,212 Z"/>
<ellipse cx="333" cy="102" rx="28" ry="14"/>
<path d="M285,365 L320,350"/>
<path d="M415,430 L455,410 L575,478 M415,430 L415,505 L485,545 L485,645 M415,430 L575,520"/>
<path d="M485,545 C490,520 510,510 530,505 L620,478 L800,580 L800,610 L760,625 L760,700 L680,750 L680,660 C680,640 690,630 700,625 L800,580 M490,565 L680,670"/>
<path d="M760,625 L960,720 L960,790 L920,800 L760,700 M920,722 L920,800 M960,720 L985,760 L920,800"/>
<path d="M680,750 L920,885"/>
<path d="M625,285 L650,270 L870,400 L855,440 L840,640 M640,330 L645,530 M640,330 L845,440 M650,348 L850,455"/>
<path d="M840,640 L1145,480 L1150,290 M870,400 L950,360 L1145,470"/>
<ellipse cx="995" cy="455" rx="30" ry="18"/>
<ellipse cx="965" cy="540" rx="24" ry="22"/>
<path d="M925,130 C930,110 950,100 965,105 L1155,215 C1160,230 1150,240 1135,250 L1130,280 L1150,300 L1150,470 M945,165 L950,360 M925,130 L945,170"/>
<path d="M830,190 L860,175 L940,220 M830,190 L830,250 L810,275 L945,350 M835,205 L940,262 M835,235 L940,300"/>
<path d="M1155,310 L1370,460 L1370,540 L1310,570 L1155,480 M1155,345 L1340,480 L1340,565 M1155,385 L1330,505"/>
<path d="M1050,870 L1555,570 L1595,590 L1605,650 L1125,928 L1062,900 Z M1062,900 L1110,905 L1565,642 M1110,905 L1125,930"/>
</g>
<!-- screws near board zoom 2.7097 at 860,2680 -->
<g class="l" transform="translate(860,2680) scale(0.369048)">
<path d="M1105,370 L1105,222 C1105,206 1147,206 1147,222 L1147,370"/>
<ellipse cx="1126" cy="217" rx="20" ry="8"/>
<ellipse cx="1126" cy="380" rx="45" ry="20"/>
<path d="M1081,382 C1085,398 1110,405 1126,405 C1145,405 1167,398 1170,382"/>
</g>
<!-- right screw -->
<g class="l">
<path d="M1425.5,2727 L1425.5,2668 C1425.5,2662 1441,2662 1441,2668 L1441,2727"/>
<ellipse cx="1433" cy="2667" rx="7.5" ry="3.5"/>
<ellipse cx="1433" cy="2730" rx="16.5" ry="9.5" style="stroke-width:2.8"/>
<path d="M1425.5,2723 C1428,2727 1438,2727 1441,2723"/>
</g>
<!-- accessories zoom 2.4889 at 1750,0 -->
<g class="l" transform="translate(1750,0) scale(0.401786)">
<path d="M165,308 L1480,115 L1545,155 L1555,240 L1500,298 L180,493"/>
<path d="M222,330 L1545,155"/>
<path d="M235,430 L1555,240"/>
<path d="M165,308 L112,372 L122,445 L180,493 L235,430 L222,330 Z"/>
<path d="M150,338 L132,375 L136,432 L178,465 L210,432 L205,362 Z"/>
<path d="M132,375 L205,362 M136,432 L210,432"/>
<ellipse cx="330" cy="310" rx="22" ry="12"/>
<ellipse cx="1390" cy="153" rx="22" ry="12"/>
<ellipse cx="480" cy="1103" rx="153" ry="46"/>
<ellipse cx="480" cy="1103" rx="55" ry="18"/>
<path d="M327,1105 L330,1148 C380,1180 550,1185 635,1150 L635,1105"/>
<path d="M300,1150 C340,1185 420,1195 500,1195 C580,1195 660,1180 680,1150 C685,1130 670,1115 650,1112"/>
<path d="M300,1150 C270,1180 265,1250 285,1290 C310,1330 380,1350 480,1350 C560,1350 630,1330 670,1300 L680,1295"/>
<path d="M650,1112 L700,1115 L935,1085"/>
<path d="M680,1300 L965,1240"/>
<path d="M935,1085 C990,1090 1010,1150 1010,1190 C1005,1230 990,1250 970,1245"/>
<path d="M965,1060 C1020,1070 1048,1140 1045,1190 C1040,1230 1025,1250 1005,1250"/>
<path d="M935,1075 L965,1060 L1300,995 C1360,1010 1380,1100 1370,1150 C1360,1180 1340,1190 1320,1195 L1040,1250"/>
<ellipse cx="1045" cy="1045" rx="18" ry="10"/>
<path d="M380,1340 L380,1500 C400,1510 500,1515 580,1495 L585,1345"/>
<path d="M465,1350 L465,1510"/>
<ellipse cx="415" cy="1430" rx="30" ry="45"/>
<ellipse cx="420" cy="1430" rx="22" ry="38"/>
</g>
<!-- copyright -->
<circle cx="2382" cy="3112.4" r="24.3" fill="none" stroke="#000" stroke-width="3"/>
<text x="2380" y="3128" text-anchor="middle" style="font-family:'Liberation Serif',serif;font-weight:bold;font-size:48px" fill="#000">C</text>
<g class="t" text-anchor="middle">
<text x="925.5" y="91.5">19</text>
<text x="1347" y="176.5">20</text>
<text x="529.7" y="441">16</text>
<text x="1573.5" y="838.5">26</text>
<text x="735" y="1119">15</text>
<text x="1401" y="1167">4</text>
<text x="427" y="1297">1</text>
<text x="1587" y="1357.5">22</text>
<text x="850" y="1436">5</text>
<text x="943" y="1516">10</text>
<text x="1425" y="1507.5">8</text>
<text x="1404" y="1617.5">13</text>
<text x="856.7" y="2017">31</text>
<text x="897" y="2087">9</text>
<text x="1073.4" y="2145">30</text>
<text x="1411" y="2203">27</text>
<text x="694.7" y="2482">17</text>
<text x="2089" y="2708.5">18</text>
<text x="980.3" y="3050">21</text>
<text x="2075.8" y="313.5" transform="translate(2075.8,0) scale(0.964,1) translate(-2075.8,0)">ACC: K200MA</text>
<text x="2069.7" y="685.5" transform="translate(2069.7,0) scale(0.964,1) translate(-2069.7,0)">ACC: K151A</text>
</g>
<g class="ld">
<line x1="925.5" y1="122" x2="925.5" y2="206"/>
<line x1="1345.3" y1="209" x2="1345.3" y2="292"/>
<line x1="571" y1="427.5" x2="655" y2="427.5"/>
<line x1="1445" y1="827" x2="1526" y2="827"/>
<line x1="786" y1="1098" x2="870" y2="1098"/>
<line x1="1274" y1="1153.5" x2="1356" y2="1153.5"/>
<line x1="428.6" y1="1319.3" x2="428.6" y2="1402.7"/>
<line x1="1585" y1="1382.7" x2="1585" y2="1467"/>
<line x1="849.6" y1="1457" x2="849.6" y2="1539.3"/>
<line x1="984" y1="1496.2" x2="1068" y2="1496.2"/>
<line x1="1301.6" y1="1496.2" x2="1385.5" y2="1496.2"/>
<line x1="1277.8" y1="1598.6" x2="1361" y2="1598.6"/>
<line x1="902" y1="2007.3" x2="985" y2="2007.3"/>
<line x1="925" y1="2072" x2="1016" y2="2072"/>
<line x1="1115" y1="2128.8" x2="1198.5" y2="2128.8"/>
<line x1="1276.8" y1="2187" x2="1360" y2="2187"/>
<line x1="694" y1="2335" x2="694" y2="2421.7"/>
<line x1="2085.4" y1="2568.4" x2="2085.4" y2="2653.2"/>
<line x1="980.7" y1="2910.7" x2="980.7" y2="2993"/>
</g>
</svg></body></html>
